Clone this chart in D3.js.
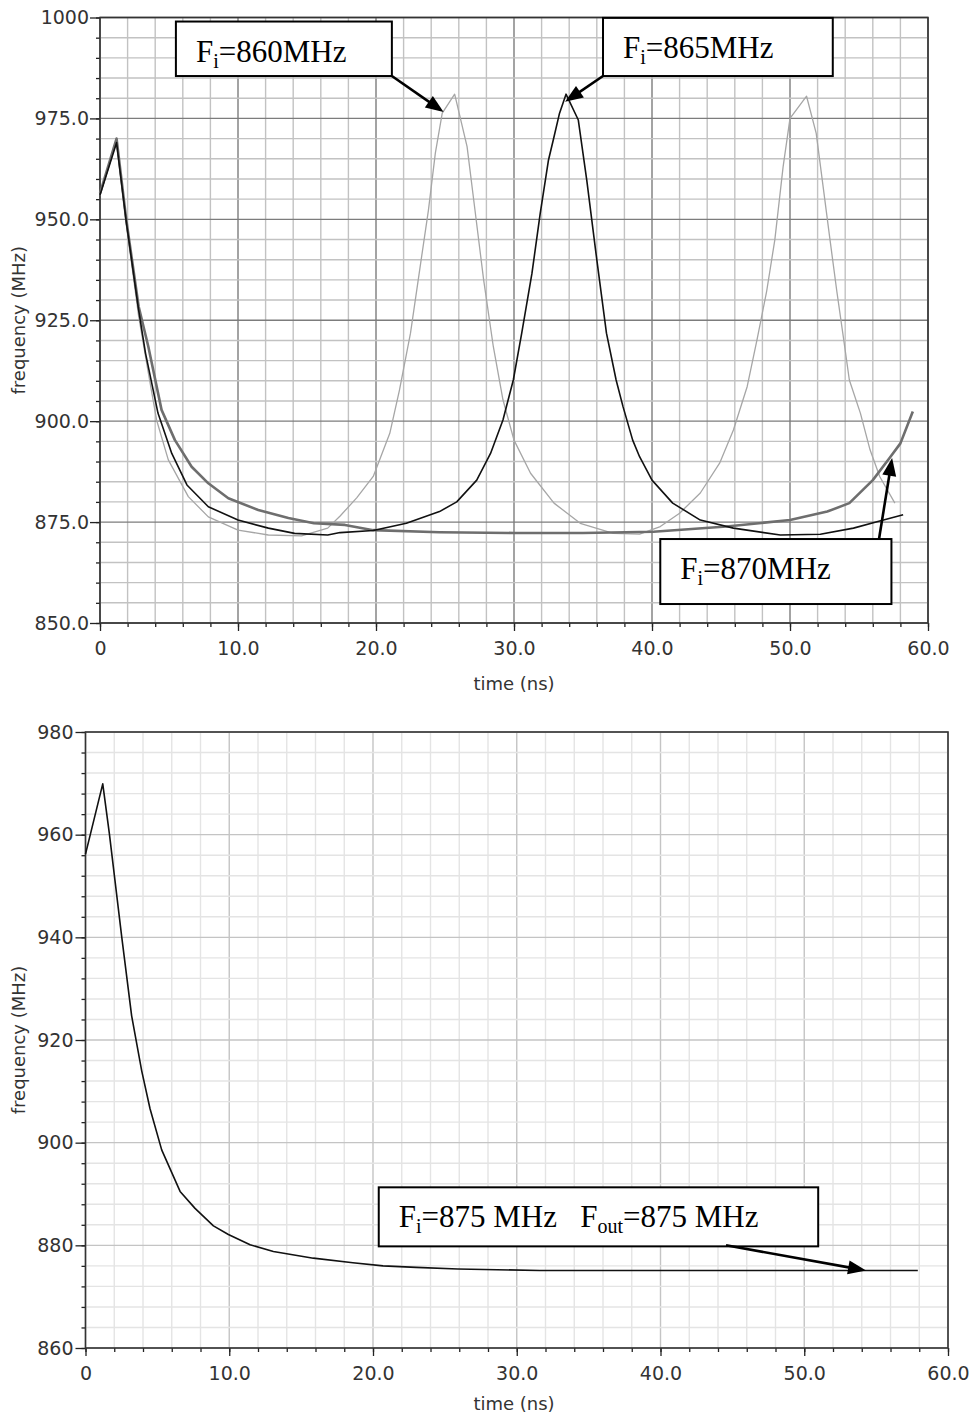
<!DOCTYPE html>
<html>
<head>
<meta charset="utf-8">
<script src="https://cdn.jsdelivr.net/npm/d3@7"></script>
<style>
  body { margin: 0; background: #fff; }
  .tick text, .title { font-family: "DejaVu Sans", sans-serif; fill: #333; }
  .note text { font-family: "Liberation Serif", "Times New Roman", serif; fill: #000; white-space: pre; }
</style>
</head>
<body>
<svg id="chart" width="971" height="1416"></svg>
<script>
// ---- data (time in ns, frequency in MHz) ----
const t860 = [0, 1.2, 1.9, 2.8, 3.5, 4.1, 4.95, 6.4, 7.85, 10, 12.2, 14.6, 16.5, 17.4, 18.6, 19.8, 21, 21.7, 22.5, 23.2, 23.8, 24.3, 24.8, 25.7, 26.6, 27.2, 27.8, 28.5, 29.2, 30, 31.2, 32.9, 34.8, 37.2, 39.1, 40.6, 42, 43.5, 44.9, 45.9, 46.9, 47.6, 48.3, 48.9, 49.5, 50, 51.2, 51.9, 52.4, 52.9, 53.4, 53.9, 54.3, 55.1, 55.8, 56.5, 57.6];
const f860 = [956, 969.5, 949, 926, 912, 900.3, 890.4, 881.3, 876.3, 873, 871.8, 871.6, 873.5, 876.5, 881, 886.3, 897, 907.7, 921.8, 938.3, 952.3, 966.4, 976.3, 981, 968, 951.5, 935, 918.5, 905.3, 895.3, 887.1, 879.7, 874.7, 872.2, 872, 873.9, 877.2, 882.2, 889.6, 897.8, 908.6, 920, 932, 944.9, 963, 975, 980.5, 971.3, 958.1, 944.9, 932, 920, 910.2, 902, 892.9, 886.3, 879.7];

const t865 = [0, 1.2, 1.9, 2.8, 3.3, 4.2, 5.2, 6.3, 7.85, 10, 12.2, 14.1, 16.5, 17.4, 19.8, 22.2, 24.6, 25.85, 27.3, 28.3, 29.2, 29.95, 30.56, 31.3, 31.9, 32.5, 32.85, 33.3, 33.77, 34.66, 35.27, 36, 36.7, 37.4, 37.9, 38.6, 39.1, 40, 41.5, 43.5, 45.9, 49.3, 52.2, 54.6, 56.3, 58.2];
const f865 = [956, 969, 949.5, 927.5, 916.8, 902, 892, 884.2, 878.8, 875.5, 873.5, 872.2, 871.8, 872.4, 872.9, 874.7, 877.6, 880, 885.4, 892, 900.3, 910.2, 921.8, 936.6, 951.5, 964.7, 969.7, 976.3, 981, 974.6, 959.8, 940, 921.8, 910.2, 903.6, 895.3, 891.2, 885.4, 879.7, 875.5, 873.5, 871.8, 872, 873.5, 875.1, 876.8];

const t870 = [0, 1.2, 1.9, 2.8, 3.5, 4.46, 5.43, 6.64, 7.85, 9.3, 11.47, 13.65, 15.5, 17.75, 19.8, 24.6, 30, 35, 40.1, 45.4, 50, 52.7, 54.3, 56, 57.2, 58, 58.9];
const f870 = [956.4, 970, 950, 928.4, 918.5, 902.8, 895.3, 888.7, 884.6, 880.9, 878, 876, 874.7, 874.3, 873, 872.5, 872.3, 872.3, 872.6, 873.9, 875.5, 877.6, 879.7, 885.4, 890.8, 894.5, 902.4];

const t875 = [0, 1.2, 1.66, 2.52, 3.21, 3.91, 4.49, 5.3, 6.58, 7.62, 8.9, 9.94, 11.45, 13.07, 15.85, 18.6, 20.7, 23, 25.9, 31.6, 45, 57.9];
const f875 = [956.2, 969.9, 960.2, 940.1, 924.7, 914, 906.6, 898.6, 890.5, 887.2, 883.8, 882.1, 880.1, 878.8, 877.5, 876.6, 876, 875.7, 875.4, 875.1, 875.1, 875.1];

const xTickValues = [0, 10, 20, 30, 40, 50, 60];
const xTickLabels = ['0', '10.0', '20.0', '30.0', '40.0', '50.0', '60.0'];
const topYTicks = [850, 875, 900, 925, 950, 975, 1000];
const topYLabels = ['850.0', '875.0', '900.0', '925.0', '950.0', '975.0', '1000'];
const botYTicks = [860, 880, 900, 920, 940, 960, 980];
const botYLabels = ['860', '880', '900', '920', '940', '960', '980'];

const svg = d3.select('#chart');

function panel(p) {
  const x = d3.scaleLinear().domain([0, 60]).range([p.left, p.right]);
  const y = d3.scaleLinear().domain([p.yTicks[0], p.yTicks[p.yTicks.length - 1]]).range([p.bottom, p.top]);
  const g = svg.append('g');

  const xMinor = d3.range(0, 60.001, 2);
  const yMinor = d3.range(p.yTicks[0], p.yTicks[p.yTicks.length - 1] + 0.001, p.yStep);

  // grid
  g.selectAll('.gx').data(xMinor).join('line')
    .attr('x1', d => x(d)).attr('x2', d => x(d))
    .attr('y1', p.top).attr('y2', p.bottom)
    .attr('stroke', d => xTickValues.includes(d) ? p.major : p.minor)
    .attr('stroke-width', 1.4);
  g.selectAll('.gy').data(yMinor).join('line')
    .attr('y1', d => y(d)).attr('y2', d => y(d))
    .attr('x1', p.left).attr('x2', p.right)
    .attr('stroke', d => p.yTicks.includes(d) ? p.major : p.minor)
    .attr('stroke-width', 1.4);

  // axes: minor ticks, then labelled major ticks
  g.append('g').attr('transform', `translate(0,${p.bottom})`)
    .call(d3.axisBottom(x).tickValues(xMinor).tickSize(4).tickFormat(''))
    .call(a => a.select('.domain').remove());
  g.append('g').attr('transform', `translate(0,${p.bottom})`)
    .call(d3.axisBottom(x).tickValues(xTickValues).tickSize(8).tickPadding(11)
      .tickFormat((d, i) => xTickLabels[i]))
    .call(a => a.select('.domain').remove())
    .selectAll('text').attr('font-size', 19);
  g.append('g').attr('transform', `translate(${p.left},0)`)
    .call(d3.axisLeft(y).tickValues(yMinor).tickSize(4).tickFormat(''))
    .call(a => a.select('.domain').remove());
  g.append('g').attr('transform', `translate(${p.left},0)`)
    .call(d3.axisLeft(y).tickValues(p.yTicks).tickSize(10).tickPadding(p.yPad)
      .tickFormat((d, i) => p.yLabels[i]))
    .call(a => a.select('.domain').remove())
    .selectAll('text').attr('font-size', 19);
  g.selectAll('.tick line').attr('stroke', '#222').attr('stroke-width', 1.3);

  g.append('rect')
    .attr('x', p.left).attr('y', p.top)
    .attr('width', p.right - p.left).attr('height', p.bottom - p.top)
    .attr('fill', 'none').attr('stroke', '#333').attr('stroke-width', 1.6);

  // titles
  g.append('text').attr('class', 'title')
    .attr('x', 514).attr('y', p.bottom + p.titleGap)
    .attr('text-anchor', 'middle').attr('font-size', 18)
    .text('time (ns)');
  g.append('text').attr('class', 'title')
    .attr('transform', `translate(25,${(p.top + p.bottom) / 2}) rotate(-90)`)
    .attr('text-anchor', 'middle').attr('font-size', 18)
    .text('frequency (MHz)');

  // curves
  const line = d3.line().x(d => x(d[0])).y(d => y(d[1]));
  p.series.forEach(s => {
    g.append('path')
      .datum(d3.zip(s.t, s.f))
      .attr('d', line)
      .attr('fill', 'none')
      .attr('stroke', s.color)
      .attr('stroke-width', s.width)
      .attr('stroke-linejoin', 'round');
  });

  // annotations
  p.notes.forEach(n => {
    const ng = g.append('g').attr('class', 'note');
    const x0 = x(n.box[0]), x1 = x(n.box[1]);
    const y0 = y(n.box[2]), y1 = y(n.box[3]);
    ng.append('rect')
      .attr('x', x0).attr('y', y0).attr('width', x1 - x0).attr('height', y1 - y0)
      .attr('fill', '#fff').attr('stroke', '#000').attr('stroke-width', 2);
    const txt = ng.append('text')
      .attr('x', x0 + 20).attr('y', y0 + 40).attr('font-size', 31);
    n.parts.forEach(part => {
      if (part[1]) txt.append('tspan').attr('font-size', 20).attr('dy', 6).text(part[0]);
      else txt.append('tspan').attr('dy', part[2] ? -6 : 0).text(part[0]);
    });
    // arrow
    const bx = x(n.from[0]), by = y(n.from[1]);
    const tx = x(n.tip[0]), ty = y(n.tip[1]);
    const ang = Math.atan2(ty - by, tx - bx);
    const L = 18, W = 7;
    const cx = tx - L * Math.cos(ang), cy = ty - L * Math.sin(ang);
    ng.append('line')
      .attr('x1', bx).attr('y1', by)
      .attr('x2', tx - 12 * Math.cos(ang)).attr('y2', ty - 12 * Math.sin(ang))
      .attr('stroke', '#000').attr('stroke-width', 2.6);
    ng.append('path')
      .attr('d', `M${tx},${ty}L${cx - W * Math.sin(ang)},${cy + W * Math.cos(ang)}L${cx + W * Math.sin(ang)},${cy - W * Math.cos(ang)}Z`)
      .attr('fill', '#000');
  });
}

panel({
  left: 100, right: 928, top: 17.5, bottom: 623, titleGap: 67,
  yTicks: topYTicks, yLabels: topYLabels, yStep: 5, yPad: 1,
  major: '#7c7c7c', minor: '#c2c2c2',
  series: [
    { t: t860, f: f860, color: '#a6a6a6', width: 1.3 },
    { t: t870, f: f870, color: '#6e6e6e', width: 2.6 },
    { t: t865, f: f865, color: '#111', width: 1.6 }
  ],
  notes: [
    { box: [5.5, 21.15, 999, 985.5], from: [21.15, 985.5], tip: [24.9, 976.6],
      parts: [['F'], ['i', true], ['=860MHz', false, true]] },
    { box: [36.45, 53.1, 999.9, 985.5], from: [36.45, 985.5], tip: [33.7, 979.1],
      parts: [['F'], ['i', true], ['=865MHz', false, true]] },
    { box: [40.6, 57.35, 870.8, 854.7], from: [56.45, 870.8], tip: [57.4, 890.9],
      parts: [['F'], ['i', true], ['=870MHz', false, true]] }
  ]
});

panel({
  left: 85.5, right: 948, top: 732, bottom: 1348, titleGap: 62,
  yTicks: botYTicks, yLabels: botYLabels, yStep: 4, yPad: 2,
  major: '#c4c4c4', minor: '#e4e4e4',
  series: [
    { t: t875, f: f875, color: '#111', width: 1.6 }
  ],
  notes: [
    { box: [20.4, 50.97, 891.3, 879.8], from: [44.56, 880], tip: [54.3, 875.1],
      parts: [['F'], ['i', true], ['=875 MHz   F', false, true], ['out', true], ['=875 MHz', false, true]] }
  ]
});
</script>
</body>
</html>
